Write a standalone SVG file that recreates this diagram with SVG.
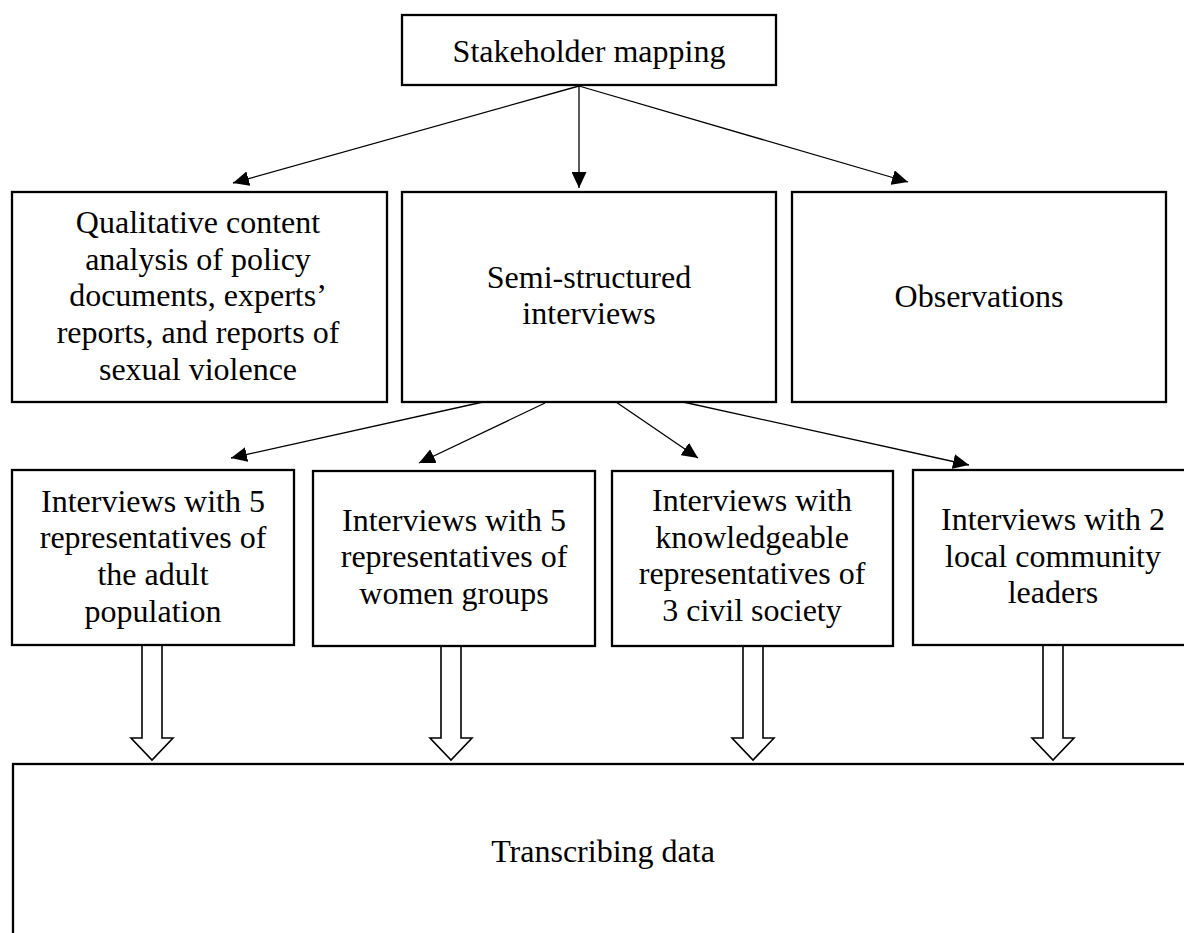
<svg xmlns="http://www.w3.org/2000/svg" width="1184" height="933" viewBox="0 0 1184 933">
<style>
.box{fill:#fff;stroke:#000;stroke-width:2.3}
.t{font-family:"Liberation Serif","Times New Roman",serif;font-size:32px;fill:#000;text-anchor:middle}
.c{stroke:#000;stroke-width:1.3;fill:none;marker-end:url(#ah)}
.blk{fill:#fff;stroke:#000;stroke-width:1.6;stroke-linejoin:miter}
</style>
<defs>
<marker id="ah" viewBox="0 0 16 15" refX="16" refY="7.5" markerWidth="16" markerHeight="15" markerUnits="userSpaceOnUse" orient="auto">
<path d="M0,0 L16,7.5 L0,15 z" fill="#000"/>
</marker>
</defs>
<rect width="1184" height="933" fill="#fff"/>

<g id="connectors">
<line class="c" x1="579" y1="86" x2="233" y2="183"/>
<line class="c" x1="579" y1="86" x2="579" y2="188"/>
<line class="c" x1="579" y1="86" x2="908" y2="182"/>
<line class="c" x1="483" y1="402" x2="231" y2="458"/>
<line class="c" x1="545" y1="403" x2="419" y2="463"/>
<line class="c" x1="616" y1="402" x2="698" y2="458"/>
<line class="c" x1="683" y1="402" x2="969" y2="465"/>
<path class="blk" d="M142,645 V738 H131 L152,760 L173,738 H162 V645 Z"/>
<path class="blk" d="M441,645 V738 H430 L451,760 L472,738 H461 V645 Z"/>
<path class="blk" d="M743,645 V738 H732 L753,760 L774,738 H763 V645 Z"/>
<path class="blk" d="M1043,645 V738 H1032 L1053,760 L1074,738 H1063 V645 Z"/>
</g>

<g id="stakeholder">
<rect class="box" x="402" y="15" width="374" height="70"/>
<text class="t" x="589" y="62">Stakeholder mapping</text>
</g>

<g id="qualitative">
<rect class="box" x="12" y="192" width="375" height="210"/>
<text class="t"><tspan x="198" y="233">Qualitative content</tspan><tspan x="198" y="270">analysis of policy</tspan><tspan x="198" y="306">documents, experts’</tspan><tspan x="198" y="343">reports, and reports of</tspan><tspan x="198" y="380">sexual violence</tspan></text>
</g>

<g id="semi">
<rect class="box" x="402" y="192" width="374" height="210"/>
<text class="t"><tspan x="589" y="288">Semi-structured</tspan><tspan x="589" y="324">interviews</tspan></text>
</g>

<g id="observations">
<rect class="box" x="792" y="192" width="374" height="210"/>
<text class="t" x="979" y="307">Observations</text>
</g>

<g id="adult">
<rect class="box" x="12" y="470" width="282" height="175"/>
<text class="t"><tspan x="153" y="512">Interviews with 5</tspan><tspan x="153" y="548">representatives of</tspan><tspan x="153" y="585">the adult</tspan><tspan x="153" y="622">population</tspan></text>
</g>

<g id="women">
<rect class="box" x="313" y="471" width="282" height="175"/>
<text class="t"><tspan x="454" y="531">Interviews with 5</tspan><tspan x="454" y="567">representatives of</tspan><tspan x="454" y="604">women groups</tspan></text>
</g>

<g id="civil">
<rect class="box" x="612" y="471" width="281" height="175"/>
<text class="t"><tspan x="752" y="511">Interviews with</tspan><tspan x="752" y="548">knowledgeable</tspan><tspan x="752" y="584">representatives of</tspan><tspan x="752" y="621">3 civil society</tspan></text>
</g>

<g id="leaders">
<rect class="box" x="913" y="470" width="282" height="175"/>
<text class="t"><tspan x="1053" y="530">Interviews with 2</tspan><tspan x="1053" y="567">local community</tspan><tspan x="1053" y="603">leaders</tspan></text>
</g>

<g id="transcribing">
<rect class="box" x="13" y="764" width="1200" height="200"/>
<text class="t" x="603" y="862">Transcribing data</text>
</g>
</svg>
